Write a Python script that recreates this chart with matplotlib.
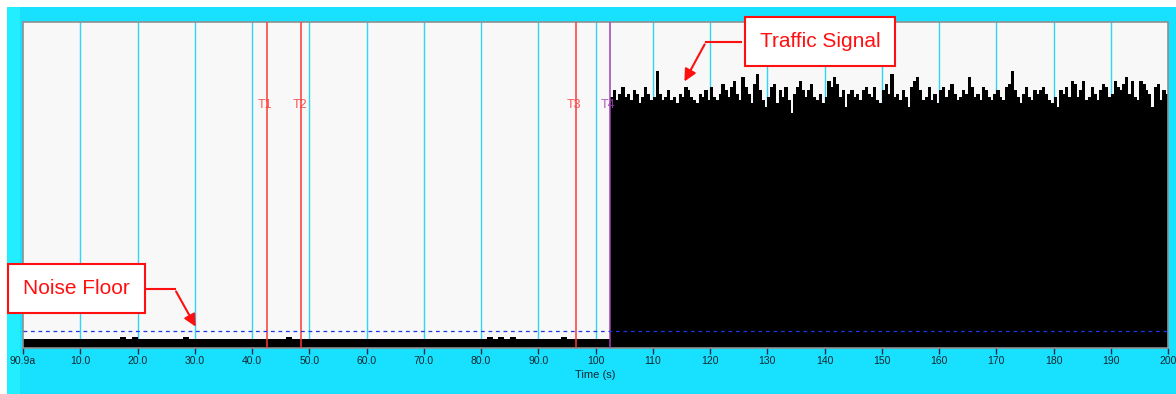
import matplotlib
matplotlib.use("Agg")
from matplotlib import pyplot as plt
from matplotlib.patches import Rectangle

plt.rcParams['font.family'] = ['Liberation Sans', 'DejaVu Sans']

# tick labels along the time axis
tick_pos = list(range(0, 201, 10))
tick_labels = ['90.9a', '10.0', '20.0', '30.0', '40.0', '50.0', '60.0', '70.0', '80.0', '90.0',
               '100', '110', '120', '130', '140', '150', '160', '170', '180', '190', '200']

# marker cursors (time in s)
marker_names = ['T1', 'T2', 'T3', 'T4']
marker_times = [42.6, 48.6, 96.6, 102.5]
marker_colors = ['#FF3838', '#FF3838', '#FF3838', '#A040B8']

# noise before the traffic starts, 1 s per bar
noise_start = 0.0
noise_step = 1.0
noise_vals = [2.8, 2.8, 2.8, 2.8, 2.8, 2.9, 2.8, 2.8, 2.8, 2.8,
              2.8, 2.8, 2.9, 2.8, 2.8, 2.8, 2.8, 3.5, 2.8, 3.4,
              2.8, 2.8, 2.9, 2.8, 2.8, 2.8, 2.9, 2.8, 3.4, 2.8,
              2.8, 2.8, 2.8, 2.8, 2.9, 2.8, 2.8, 2.9, 2.8, 2.8,
              2.8, 2.8, 2.8, 2.9, 2.8, 2.8, 3.4, 2.8, 2.8, 2.8,
              2.8, 2.9, 2.8, 2.8, 2.8, 2.8, 2.8, 2.9, 2.8, 2.8,
              2.8, 2.8, 2.8, 2.8, 2.9, 2.8, 2.8, 2.8, 2.8, 2.8,
              2.8, 2.9, 2.8, 2.8, 2.8, 2.8, 2.8, 2.8, 2.9, 2.8,
              2.8, 3.3, 2.8, 3.4, 2.8, 3.5, 2.8, 2.8, 2.9, 2.8,
              2.8, 2.8, 2.9, 2.8, 3.3, 2.8, 2.8, 2.8, 2.8, 2.8,
              2.8, 2.8, 2.8]

# traffic signal, 0.5 s per bar
signal_start = 102.5
signal_step = 0.5
signal_vals = [77, 79, 76, 78, 80, 77, 78, 76, 79, 78, 75, 77, 80, 78, 76, 77, 85, 78, 76, 77,
               79, 76, 77, 75, 78, 77, 80, 79, 77, 76, 75, 78, 77, 79, 76, 80, 77, 76, 78, 81,
               79, 77, 80, 82, 78, 76, 83, 80, 78, 75,
               81, 84, 79, 76, 74, 77, 80, 81, 75, 79, 77, 80, 76, 72, 78, 80, 82, 79, 77, 79,
               81, 77, 76, 78, 75, 77, 82, 80, 83, 81, 77, 79, 74, 78, 79, 77, 78, 76, 79, 80,
               78, 77, 80, 76, 75, 79, 81, 78, 84, 77,
               78, 76, 79, 77, 74, 80, 82, 83, 79, 76, 77, 80, 76, 78, 75, 79, 80, 77, 79, 81,
               78, 76, 77, 79, 78, 83, 80, 77, 78, 76, 80, 79, 77, 76, 78, 79, 77, 76, 80, 81,
               85, 79, 77, 75, 78, 80, 77, 76, 79, 78,
               79, 80, 78, 76, 75, 77, 74, 79, 78, 80, 77, 82, 81, 77, 79, 82, 76, 77, 80, 78,
               76, 79, 81, 80, 77, 78, 82, 80, 79, 81, 83, 78, 82, 77, 76, 82, 81, 79, 78, 74,
               80, 81, 76, 79, 78]

noise_floor = 5.2

cyan = '#18E0FF'
fig = plt.figure(figsize=(11.76, 3.94), dpi=100, facecolor='white')
fig.patches.append(Rectangle((7 / 1176, 0), 1 - 7 / 1176, 1 - 7 / 394, transform=fig.transFigure,
                             facecolor=cyan, edgecolor='none', zorder=-2))
fig.patches.append(Rectangle((7 / 1176, 0), 13 / 1176, 1 - 7 / 394, transform=fig.transFigure,
                             facecolor='#22EEFF', edgecolor='none', zorder=-1))

ax = fig.add_axes([23 / 1176, 46 / 394, 1145 / 1176, 326 / 394])
ax.set_zorder(1)
ax.set_facecolor('#F8F8F8')
ax.set_xlim(0, 200)
ax.set_ylim(0, 100)

for t in tick_pos[1:-1]:
    ax.axvline(t, color='#30D4F4', lw=1.0, zorder=1)

nx = [noise_start + i * noise_step for i in range(len(noise_vals))]
ax.bar(nx, noise_vals, width=noise_step * 1.05, align='edge', color='black', linewidth=0, zorder=2)
sx = [signal_start + i * signal_step for i in range(len(signal_vals))]
ax.bar(sx, signal_vals, width=signal_step * 1.15, align='edge', color='black',
       linewidth=0, zorder=2)

ax.axhline(noise_floor, color='#1838E8', lw=0.9, ls=(0, (3, 3)), zorder=4)

for name, t, c in zip(marker_names, marker_times, marker_colors):
    ax.axvline(t, color=c, lw=1.1, zorder=3)
    ax.text(t - 0.3, 74.5, name, color=c, alpha=0.85, fontsize=9, ha='center', va='center', zorder=5)

ax.set_xticks(tick_pos)
ax.set_xticklabels(tick_labels, fontsize=7.5, color='#102830')
ax.tick_params(axis='x', direction='out', length=4, width=1, color='#203040', pad=2)
ax.set_yticks([])
ax.set_xlabel('Time (s)', fontsize=8, color='#102830', labelpad=3)
for s in ax.spines.values():
    s.set_color('#909090')
    s.set_linewidth(1.2)

box = dict(boxstyle='square,pad=0.72', facecolor='white', edgecolor='#FF1010', linewidth=1.5)
ax.text(139.2, 94.0, 'Traffic Signal', fontsize=15, color='#FF1010', ha='center', va='center',
        bbox=box, zorder=10, clip_on=False)
ax.plot([125.4, 119.3], [93.9, 93.9], color='#FF1010', lw=1.5, zorder=10, clip_on=False)
ax.annotate('', xy=(115.3, 81.0), xytext=(119.3, 93.9),
            arrowprops=dict(arrowstyle='-|>', color='#FF1010', lw=1.5, mutation_scale=18), zorder=10)

ax.text(9.3, 18.1, 'Noise Floor', fontsize=15, color='#FF1010', ha='center', va='center',
        bbox=box, zorder=10, clip_on=False)
ax.plot([21.6, 26.5], [18.1, 18.1], color='#FF1010', lw=1.5, zorder=10, clip_on=False)
ax.annotate('', xy=(30.4, 5.8), xytext=(26.5, 18.1),
            arrowprops=dict(arrowstyle='-|>', color='#FF1010', lw=1.5, mutation_scale=18), zorder=10)

fig.savefig('out.png', dpi=100)
